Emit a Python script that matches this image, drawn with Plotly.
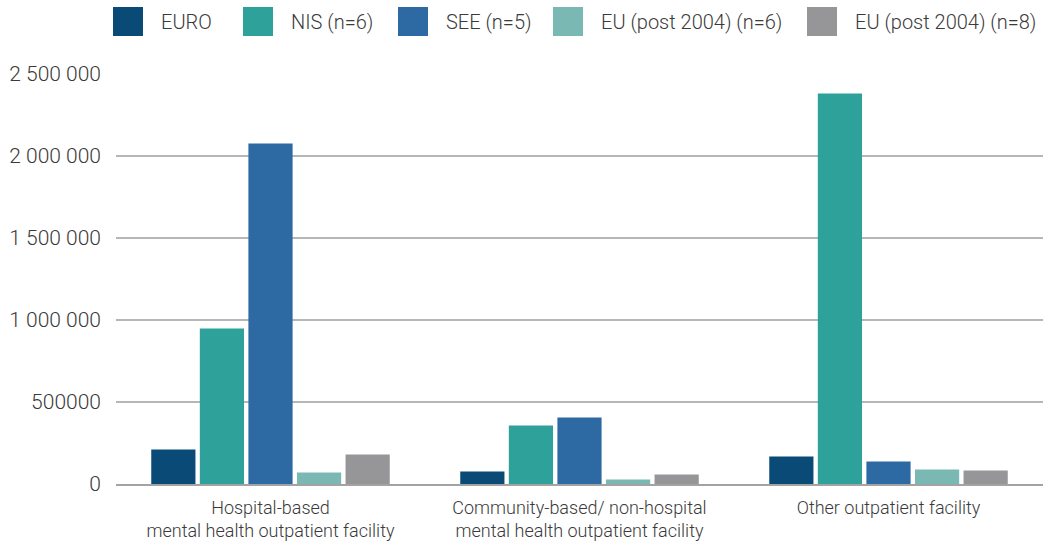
import plotly.graph_objects as go

categories = [
    "Hospital-based<br>mental health outpatient facility",
    "Community-based/ non-hospital<br>mental health outpatient facility",
    "Other outpatient facility",
]
series_names = ["EURO", "NIS (n=6)", "SEE (n=5)", "EU (post 2004) (n=6)", "EU (post 2004) (n=8)"]
series_values = [
    [210000, 76000, 168000],
    [948000, 357000, 2381000],
    [2076000, 405000, 137000],
    [70000, 27000, 88000],
    [180000, 58000, 82000],
]
colors = ["#0a4a77", "#2ea29a", "#2d6aa3", "#7ab8b3", "#969699"]
y_tickvals = [0, 500000, 1000000, 1500000, 2000000, 2500000]
y_ticktext = ["0", "500000", "1 000 000", "1 500 000", "2 000 000", "2 500 000"]

FONT = "Roboto"
TEXT = "#3a3a3a"

fig = go.Figure()
for name, vals, col in zip(series_names, series_values, colors):
    fig.add_trace(go.Bar(x=categories, y=vals, name=name, marker=dict(color=col, line=dict(width=0)),
                         showlegend=False))

# Legend: large colour squares with labels along the top
legend_x = [113, 243, 398, 553, 807]
W, H = 1059, 546
ml, mr, mt, mb = 116, 16, 74, 62
pw, ph = W - ml - mr, H - mt - mb
def px_to_paper_x(px):
    return (px - ml) / pw
def px_to_paper_y(py):
    return (H - mb - py) / ph

for x0, name, col in zip(legend_x, series_names, colors):
    fig.add_shape(type="rect", xref="paper", yref="paper",
                  x0=px_to_paper_x(x0), x1=px_to_paper_x(x0 + 30),
                  y0=px_to_paper_y(36), y1=px_to_paper_y(7),
                  fillcolor=col, line=dict(width=0))
    fig.add_annotation(xref="paper", yref="paper", x=px_to_paper_x(x0 + 46), y=px_to_paper_y(21.5),
                       text=name, showarrow=False, xanchor="left", yanchor="middle",
                       font=dict(family=FONT, size=20, color=TEXT, weight=300))

fig.update_layout(
    width=W, height=H,
    margin=dict(l=ml, r=mr, t=mt, b=mb, autoexpand=False),
    paper_bgcolor="white", plot_bgcolor="white",
    barmode="group", bargap=0.214, bargroupgap=0.09,
    font=dict(family=FONT, color=TEXT, weight=300),
)
fig.update_xaxes(automargin=False, showline=True, linecolor="#a3a3a3", linewidth=2, ticks="",
                 ticklabelstandoff=6,
                 tickfont=dict(family=FONT, size=18, color=TEXT, weight=300))
fig.update_yaxes(automargin=False, range=[0, 2500000], tickvals=y_tickvals, ticktext=y_ticktext,
                 showgrid=True, gridcolor="#b6b6b6", gridwidth=1.5,
                 zeroline=False, showline=False, ticks="", ticklabelstandoff=14,
                 tickfont=dict(family=FONT, size=21, color=TEXT, weight=300))

fig.write_html("out.html")
